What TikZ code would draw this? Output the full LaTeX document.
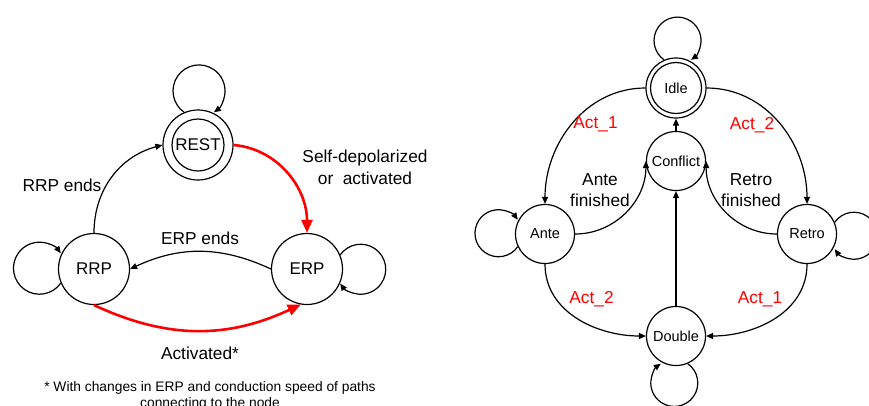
\documentclass[tikz,border=0pt]{standalone}
\usepackage{fontspec}
\setmainfont{Liberation Sans}
\usetikzlibrary{arrows.meta}
\begin{document}
\begin{tikzpicture}[x=1pt,y=1pt,
  lstate/.style={circle,draw,line width=1.2pt,minimum size=71pt,inner sep=0pt,font=\fontsize{17}{20}\selectfont},
  rstate/.style={circle,draw,line width=1.2pt,minimum size=59pt,inner sep=0pt,font=\fontsize{14.5}{17}\selectfont},
  blk/.style={line width=1.2pt,-{Triangle[length=7pt,width=6pt]}},
  redarr/.style={draw=red,line width=2.6pt,-{Triangle[length=13pt,width=11pt]}},
  lbl/.style={font=\fontsize{17.3}{21.7}\selectfont,align=center,anchor=base,inner sep=0pt},
  rlbl/.style={lbl,text=red},
  note/.style={font=\fontsize{13.8}{16}\selectfont,align=center,anchor=base,inner sep=0pt},
]
\useasboundingbox (0,0) rectangle (869,-405);
\fill[white] (0,0) rectangle (869,-405);

% ---------- left diagram ----------
\node[lstate,minimum size=70pt] (REST) at (198,-145) {REST};
\draw[line width=1.2pt] (REST) circle[radius=26pt];
\node[lstate] (RRP) at (94,-269) {RRP};
\node[lstate] (ERP) at (307,-269) {ERP};

% self loops (clockwise arcs leaving and re-entering the node)
\draw[blk] (REST.113) arc[start angle=235,delta angle=-290,radius=26pt];
\draw[blk] (RRP.203) arc[start angle=-35,delta angle=-290,radius=26pt];
\draw[blk] (ERP.23) arc[start angle=145,delta angle=-290,radius=25pt];

\draw[blk] (RRP.north) to[out=90,in=195] (REST.west);
\draw[redarr] (REST.east) to[out=-5,in=90] (ERP.north);
\draw[blk] (ERP.west) to[out=155,in=25] (RRP.east);
\draw[redarr] (RRP.south) to[out=-25,in=205] (ERP.-100);

\node[lbl] (l1) at (62,-191) {RRP ends};
\node[lbl] (l2) at (365,-184) {Self-depolarized\\or~ activated};
\node[lbl] (l3) at (200,-244) {ERP ends};
\node[lbl] (l4) at (200,-359) {Activated*};
\node[note] (fn) at (210,-407) {* With changes in ERP and conduction speed of paths\\connecting to the node};

% ---------- right diagram ----------
\node[rstate,minimum size=60pt] (Idle) at (676,-88) {Idle};
\draw[line width=1.2pt] (Idle) circle[radius=25.5pt];
\node[rstate] (Conflict) at (676,-161) {Conflict};
\node[rstate] (Ante) at (545,-234) {Ante};
\node[rstate] (Retro) at (807,-234) {Retro};
\node[rstate] (Double) at (676,-336) {Double};

\draw[blk] (Idle.113) arc[start angle=235,delta angle=-290,radius=23.5pt];
\draw[blk] (Ante.205) arc[start angle=-35,delta angle=-290,radius=23.5pt];
\draw[blk] (Retro.23) arc[start angle=145,delta angle=-290,radius=23.5pt];
\draw[blk] (Double.293) arc[start angle=55,delta angle=-290,radius=23.5pt];

\draw[blk] (Idle.west) to[out=180,in=90] (Ante.north);
\draw[blk] (Idle.east) to[out=0,in=90] (Retro.north);
\draw[blk] (Ante.east) to[out=0,in=-90] (Conflict.west);
\draw[blk] (Retro.west) to[out=180,in=-90] (Conflict.east);
\draw[blk] (Conflict.north) -- (Idle.south);
\draw[blk] (Double.north) -- (Conflict.south);
\draw[blk] (Ante.south) to[out=-90,in=180] (Double.west);
\draw[blk] (Retro.south) to[out=-90,in=0] (Double.east);

\node[rlbl] (a1) at (595.5,-128.3) {Act\_1};
\node[rlbl] (a2) at (752,-129) {Act\_2};
\node[lbl] (af) at (600,-206.7) {Ante\\finished};
\node[lbl] (rf) at (751,-206.7) {Retro\\finished};
\node[rlbl] (a3) at (591.5,-303) {Act\_2};
\node[rlbl] (a4) at (760,-303) {Act\_1};
\end{tikzpicture}
\end{document}
